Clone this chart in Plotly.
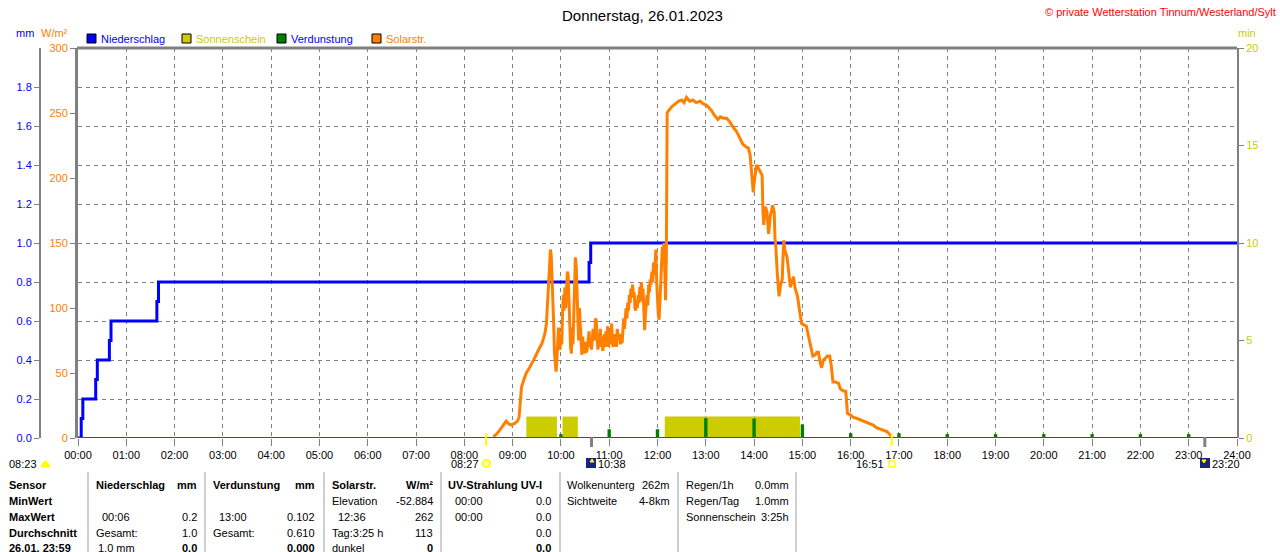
import plotly.graph_objects as go

# --- Daten ---
hours = list(range(25))
hour_labels = ["%02d:00" % h for h in hours]

# Niederschlag kumuliert (mm)
rain_time = ["00:00", "00:04", "00:06", "00:22", "00:24", "00:39", "00:41",
             "01:38", "01:40", "10:35", "10:37", "24:00"]
rain_mm = [0.0, 0.1, 0.2, 0.3, 0.4, 0.5, 0.6, 0.7, 0.8, 0.9, 1.0, 1.0]

# Solarstrahlung (W/m²)
solar_time = [
    "08:36", "08:40", "08:44", "08:48", "08:52", "08:55", "08:58", "09:02", "09:06", "09:08",
    "09:10", "09:11", "09:14", "09:17", "09:20", "09:24", "09:27", "09:30", "09:32",
    "09:34", "09:36", "09:38", "09:40", "09:42", "09:43", "09:44", "09:45", "09:46", "09:47",
    "09:48", "09:49", "09:50", "09:51", "09:52", "09:53", "09:54", "09:55", "09:56", "09:57",
    "09:58", "09:59", "10:00", "10:01", "10:02", "10:03", "10:04", "10:05", "10:06", "10:07",
    "10:08", "10:09", "10:10", "10:11", "10:12", "10:13", "10:14", "10:15", "10:16", "10:17",
    "10:18", "10:19", "10:20", "10:21", "10:22", "10:23", "10:24", "10:25", "10:26", "10:27",
    "10:28", "10:29", "10:30", "10:31", "10:32", "10:33", "10:34", "10:35", "10:36", "10:37",
    "10:38", "10:39", "10:40", "10:41", "10:42", "10:43", "10:44", "10:45", "10:46", "10:47",
    "10:48", "10:49", "10:50", "10:51", "10:52", "10:53", "10:54", "10:55", "10:56", "10:57",
    "10:58", "10:59", "11:00", "11:01", "11:02", "11:03", "11:04", "11:05", "11:06", "11:07",
    "11:08", "11:09", "11:10", "11:11", "11:12", "11:13", "11:14", "11:15", "11:16", "11:17",
    "11:18", "11:19", "11:20", "11:21", "11:22", "11:23", "11:24", "11:25", "11:26", "11:27",
    "11:28", "11:29", "11:30", "11:31", "11:32", "11:33", "11:34", "11:35", "11:36", "11:37",
    "11:38", "11:39", "11:40", "11:41", "11:42", "11:43", "11:44", "11:45", "11:46", "11:47",
    "11:48", "11:49", "11:50", "11:51", "11:52", "11:53", "11:54", "11:55", "11:56", "11:57",
    "11:58", "11:59", "12:00", "12:01", "12:02", "12:03", "12:04", "12:05", "12:06", "12:07",
    "12:08", "12:09", "12:10", "12:11", "12:12", "12:14", "12:18", "12:22", "12:26", "12:30",
    "12:33", "12:36", "12:40", "12:44", "12:48", "12:53", "12:57", "13:01", "13:04", "13:07",
    "13:10", "13:13", "13:15", "13:18", "13:22", "13:26", "13:30", "13:34", "13:38", "13:42",
    "13:46", "13:50", "13:53", "13:55", "13:56", "13:57", "13:59", "14:00", "14:02", "14:03",
    "14:05", "14:07", "14:09", "14:10", "14:11", "14:12", "14:14", "14:16", "14:18", "14:20",
    "14:23", "14:25", "14:26", "14:27", "14:29", "14:31", "14:33", "14:35", "14:36", "14:37",
    "14:38", "14:40", "14:41", "14:43", "14:45", "14:47", "14:49", "14:51", "14:54", "14:56",
    "14:59", "15:02", "15:05", "15:07", "15:09", "15:11", "15:13", "15:16", "15:18", "15:20",
    "15:22", "15:24", "15:26", "15:28", "15:31", "15:34", "15:36", "15:38", "15:41", "15:45",
    "15:47", "15:49", "15:52", "15:54", "15:55", "15:56", "15:59", "16:03", "16:08", "16:12",
    "16:16", "16:20", "16:24", "16:28", "16:32", "16:36", "16:40", "16:45", "16:48", "16:51",
]
solar_wm2 = [
    1, 3, 6, 10, 13, 11, 10, 11, 13, 16,
    30, 39, 45, 50, 53, 57, 61, 65, 68,
    70, 72, 76, 80, 88, 100, 108, 120, 138, 145,
    140, 125, 110, 88, 65, 52, 51, 60, 78, 85,
    70, 68, 80, 72, 95, 110, 98, 116, 100, 112,
    128, 125, 105, 88, 70, 65, 85, 72, 95, 120,
    139, 132, 110, 92, 75, 100, 85, 70, 64, 78,
    68, 72, 65, 74, 66, 70, 78, 82, 70, 76,
    68, 80, 84, 75, 78, 92, 90, 76, 68, 80,
    72, 84, 70, 78, 67, 72, 80, 70, 82, 75,
    86, 70, 78, 72, 84, 88, 74, 70, 80, 72,
    78, 70, 84, 76, 80, 78, 72, 80, 73, 85,
    92, 84, 94, 100, 92, 104, 98, 110, 104, 115,
    108, 118, 110, 112, 100, 98, 106, 100, 110, 104,
    116, 112, 120, 105, 115, 90, 83, 95, 106, 110,
    102, 118, 112, 122, 118, 128, 120, 135, 125, 140,
    145, 120, 106, 95, 91, 105, 119, 135, 147, 140,
    150, 130, 106, 140, 250, 252, 255, 257, 259, 260,
    258, 262, 259, 260, 258, 259, 257, 256, 254, 252,
    249, 247, 245, 247, 246, 246, 243, 239, 236, 231,
    226, 224, 223, 218, 210, 200, 189, 196, 208, 210,
    208, 206, 203, 202, 175, 164, 178, 174, 157, 170,
    179, 174, 153, 147, 125, 109, 118, 122, 140, 152,
    145, 142, 139, 128, 116, 120, 124, 115, 109, 100,
    88, 87, 86, 80, 75, 68, 63, 64, 66, 66,
    58, 54, 60, 61, 63, 63, 55, 43, 43, 42,
    38, 37, 36, 36, 28, 19, 18, 16, 15, 14,
    13, 12, 11, 10, 8, 7, 6, 5, 3, 1,
]

# Sonnenschein (min je Intervall)
sun_start = ["09:17", "10:02", "12:09"]
sun_end = ["09:55", "10:21", "14:57"]
sun_min = [1.1, 1.1, 1.1]

# Verdunstung (mm je Stunde)
evap_time = ["10:00", "11:00", "12:00", "13:00", "14:00", "15:00", "16:00",
             "17:00", "18:00", "19:00", "20:00", "21:00", "22:00", "23:00"]
evap_mm = [0.02, 0.045, 0.045, 0.102, 0.1, 0.07, 0.025,
           0.025, 0.02, 0.02, 0.02, 0.02, 0.02, 0.02]

# Sonne / Mond
sunrise, sunset = "08:27", "16:51"
moonrise, moonset = "10:38", "23:20"
dawn = "08:23"


def hrs(t):
    h, m = t.split(":")
    return int(h) + int(m) / 60


BLUE = "#0000ff"
ORANGE = "#ff8000"
SUNCOL = "#cccc00"
GREEN = "#008000"
GRAY = "#808080"
FONT = "Liberation Sans"

# Pixel -> paper (Papier: x 40..1237, y 48..438)
def px(x):
    return (x - 40) / 1197


def py(y):
    return (438 - y) / 390


fig = go.Figure()

sun_x = [(hrs(a) + hrs(b)) / 2 for a, b in zip(sun_start, sun_end)]
sun_w = [hrs(b) - hrs(a) for a, b in zip(sun_start, sun_end)]
fig.add_trace(go.Scatter(x=[hrs(t) for t in rain_time], y=rain_mm, mode="lines",
                         line=dict(color=BLUE, width=3, shape="hv"), yaxis="y"))
fig.add_trace(go.Scatter(x=[hrs(t) for t in solar_time], y=solar_wm2, mode="lines",
                         line=dict(color=ORANGE, width=3), yaxis="y2"))
fig.add_trace(go.Bar(x=sun_x, y=sun_min, width=sun_w, marker=dict(color=SUNCOL, line_width=0),
                     yaxis="y3"))
fig.add_trace(go.Bar(x=[hrs(t) for t in evap_time], y=evap_mm, width=0.07,
                     marker=dict(color=GREEN, line_width=0), yaxis="y4"))

fig.update_layout(
    width=1280, height=552,
    margin=dict(l=40, r=43, t=48, b=114, autoexpand=False),
    paper_bgcolor="white", plot_bgcolor="white",
    showlegend=False, barmode="overlay",
    xaxis=dict(domain=[px(78), 1], range=[0, 24], tickvals=hours, ticktext=hour_labels,
               showgrid=True, gridcolor=GRAY, griddash="4px,4px", gridwidth=1,
               ticks="outside", ticklen=7, tickcolor=GRAY, zeroline=False, automargin=False,
               tickfont=dict(family=FONT, size=11, color="black"), showline=False),
    yaxis=dict(range=[0, 2], anchor="free", position=0, side="left", automargin=False,
               tickvals=[i * 0.2 for i in range(10)], ticktext=["%.1f" % (i * 0.2) for i in range(10)],
               tickfont=dict(family=FONT, size=11, color=BLUE), ticks="outside", ticklen=5,
               tickcolor=GRAY, showline=True, linecolor=GRAY, linewidth=2,
               showgrid=True, gridcolor=GRAY, griddash="4px,4px", gridwidth=1, zeroline=False),
    yaxis2=dict(range=[0, 300], overlaying="y", anchor="x", side="left", automargin=False,
                tickvals=list(range(0, 301, 50)), tickfont=dict(family=FONT, size=11, color=ORANGE),
                ticks="outside", ticklen=5, tickcolor=GRAY, showline=True, linecolor=GRAY,
                linewidth=3, showgrid=False, zeroline=False),
    yaxis3=dict(range=[0, 20], overlaying="y", anchor="x", side="right", automargin=False,
                tickvals=[0, 5, 10, 15, 20], tickfont=dict(family=FONT, size=11, color=SUNCOL),
                ticks="outside", ticklen=5, tickcolor=GRAY, showline=True, linecolor=GRAY,
                linewidth=2, showgrid=False, zeroline=False),
    yaxis4=dict(range=[0, 2], overlaying="y", anchor="x", visible=False),
)

shapes = []
# Rahmen oben, Nulllinie grün
shapes.append(dict(type="line", xref="paper", yref="paper", x0=px(77), x1=1, y0=1, y1=1,
                   line=dict(color=GRAY, width=3)))
shapes.append(dict(type="line", xref="x", yref="y", x0=0, x1=24, y0=0, y1=0,
                   line=dict(color=GREEN, width=2)))
# Sonnenauf-/untergang, Mondauf-/untergang
for t in (sunrise, sunset):
    shapes.append(dict(type="line", xref="x", yref="paper", x0=hrs(t), x1=hrs(t),
                       y0=py(433), y1=py(446), line=dict(color="#ffff00", width=2)))
for t in (moonrise, moonset):
    shapes.append(dict(type="line", xref="x", yref="paper", x0=hrs(t), x1=hrs(t),
                       y0=py(437), y1=py(447), line=dict(color=GRAY, width=3)))

# Legende
legend = [("Niederschlag", BLUE, BLUE, 87), ("Sonnenschein", SUNCOL, SUNCOL, 182),
          ("Verdunstung", GREEN, BLUE, 277), ("Solarstr.", ORANGE, ORANGE, 372)]
annotations = []
for name, box, txtcol, x0 in legend:
    shapes.append(dict(type="rect", xref="paper", yref="paper", x0=px(x0), x1=px(x0 + 9),
                       y0=py(43), y1=py(34), fillcolor=box, line=dict(color="black", width=1)))
    annotations.append(dict(x=px(x0 + 13), y=py(38.5), text=name, xanchor="left",
                            font=dict(color=txtcol)))

# Icons unter der Achse
shapes.append(dict(type="path", xref="paper", yref="paper",
                   path="M %f,%f L %f,%f Q %f,%f %f,%f Z" % (px(41), py(467), px(50), py(467),
                                                           px(45.5), py(455), px(41), py(467)),
                   fillcolor="#ffff00", line=dict(color="#ffff00", width=1)))
shapes.append(dict(type="circle", xref="paper", yref="paper", x0=px(483), x1=px(490),
                   y0=py(467), y1=py(460), fillcolor="#ffffcc", line=dict(color="#ffff00", width=2)))
shapes.append(dict(type="rect", xref="paper", yref="paper", x0=px(889), x1=px(895),
                   y0=py(467), y1=py(461), fillcolor="white", line=dict(color="#ffff00", width=1.5)))
for x0 in (586, 1200):
    shapes.append(dict(type="rect", xref="paper", yref="paper", x0=px(x0), x1=px(x0 + 10),
                       y0=py(468), y1=py(458), fillcolor="#1a237e", line=dict(width=0)))
shapes.append(dict(type="path", xref="paper", yref="paper",
                   path="M %f,%f L %f,%f L %f,%f Z" % (px(590), py(462), px(594), py(462),
                                                       px(592), py(459)),
                   fillcolor="#ffff00", line=dict(color="#ffff00", width=1)))
shapes.append(dict(type="path", xref="paper", yref="paper",
                   path="M %f,%f L %f,%f L %f,%f Z" % (px(1202), py(460), px(1206), py(460),
                                                       px(1204), py(463)),
                   fillcolor="#ffff00", line=dict(color="#ffff00", width=1)))

# Tabellentrenner
for x in (88, 205, 324, 441, 560, 678, 796):
    shapes.append(dict(type="line", xref="paper", yref="paper", x0=px(x), x1=px(x),
                       y0=py(472), y1=py(552), line=dict(color="#a0a0a0", width=1)))


def txt(x, y, s, anchor="left", color="black", bold=False, size=11):
    if bold:
        s = "<b>%s</b>" % s
    annotations.append(dict(x=px(x), y=py(y), text=s, xanchor=anchor,
                            font=dict(color=color, size=size)))


txt(642, 15, "Donnerstag, 26.01.2023", anchor="center", size=15)
txt(1277, 12, "© private Wetterstation Tinnum/Westerland/Sylt", anchor="right", color="#ff0000")
txt(15, 33, "mm", color=BLUE)
txt(40, 33, "W/m²", color=ORANGE)
txt(1237, 33, "min", color=SUNCOL)
txt(38, 464, dawn, anchor="right")
txt(480, 464, sunrise, anchor="right")
txt(597, 464, moonrise)
txt(885, 464, sunset, anchor="right")
txt(1211, 464, moonset)

rows = [485, 501, 517, 533, 548]
for y, s in zip(rows, ["Sensor", "MinWert", "MaxWert", "Durchschnitt", "26.01. 23:59"]):
    txt(8, y, s, bold=True)
txt(95, rows[0], "Niederschlag", bold=True)
txt(198, rows[0], "mm", anchor="right", bold=True)
txt(101, rows[2], "00:06")
txt(198, rows[2], "0.2", anchor="right")
txt(95, rows[3], "Gesamt:")
txt(198, rows[3], "1.0", anchor="right")
txt(97, rows[4], "1.0 mm")
txt(198, rows[4], "0.0", anchor="right", bold=True)
txt(212, rows[0], "Verdunstung", bold=True)
txt(316, rows[0], "mm", anchor="right", bold=True)
txt(218, rows[2], "13:00")
txt(316, rows[2], "0.102", anchor="right")
txt(212, rows[3], "Gesamt:")
txt(316, rows[3], "0.610", anchor="right")
txt(316, rows[4], "0.000", anchor="right", bold=True)
txt(331, rows[0], "Solarstr.", bold=True)
txt(434, rows[0], "W/m²", anchor="right", bold=True)
txt(331, rows[1], "Elevation")
txt(434, rows[1], "-52.884", anchor="right")
txt(337, rows[2], "12:36")
txt(434, rows[2], "262", anchor="right")
txt(331, rows[3], "Tag:3:25 h")
txt(434, rows[3], "113", anchor="right")
txt(331, rows[4], "dunkel")
txt(434, rows[4], "0", anchor="right", bold=True)
txt(447, rows[0], "UV-Strahlung UV-I", bold=True)
txt(454, rows[1], "00:00")
txt(552, rows[1], "0.0", anchor="right")
txt(454, rows[2], "00:00")
txt(552, rows[2], "0.0", anchor="right")
txt(552, rows[3], "0.0", anchor="right")
txt(552, rows[4], "0.0", anchor="right", bold=True)
txt(566, rows[0], "Wolkenunterg")
txt(671, rows[0], "262m", anchor="right")
txt(566, rows[1], "Sichtweite")
txt(671, rows[1], "4-8km", anchor="right")
txt(685, rows[0], "Regen/1h")
txt(790, rows[0], "0.0mm", anchor="right")
txt(685, rows[1], "Regen/Tag")
txt(790, rows[1], "1.0mm", anchor="right")
txt(685, rows[2], "Sonnenschein")
txt(790, rows[2], "3:25h", anchor="right")

for a in annotations:
    a.update(xref="paper", yref="paper", showarrow=False, yanchor="middle", borderpad=0)
    a["font"].setdefault("family", FONT)
    a["font"].setdefault("size", 11)

fig.update_layout(shapes=shapes, annotations=annotations, font=dict(family=FONT, size=11))

# Seitenrand des Browsers entfernen, damit die Pixel stimmen
fig.write_html("out.html", config={"displayModeBar": False},
               post_script="document.body.style.margin='0';document.body.style.overflow='hidden';")
